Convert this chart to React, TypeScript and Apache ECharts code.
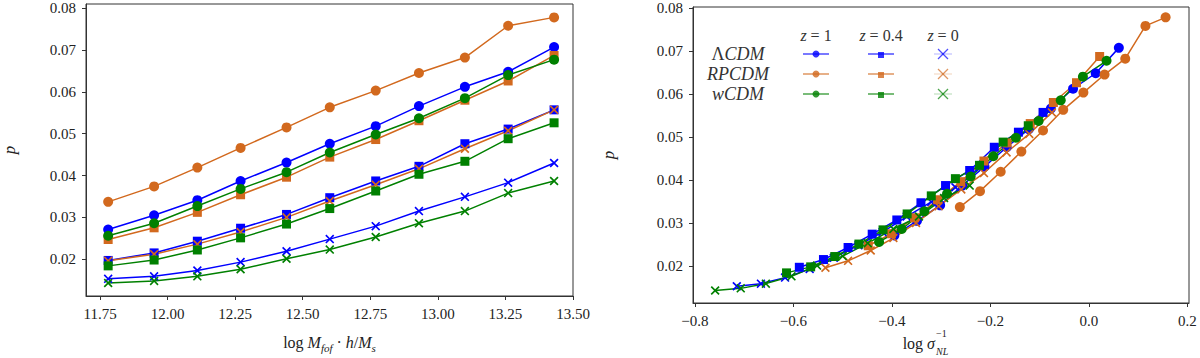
import React, { useEffect, useRef } from "react";
import * as echarts from "echarts";

// ---------- data ----------
const massBins = [11.78, 11.95, 12.11, 12.27, 12.44, 12.60, 12.77, 12.93, 13.10, 13.26, 13.43];

const pLcdmZ1 = [0.0271, 0.0305, 0.0341, 0.0387, 0.0431, 0.0476, 0.0518, 0.0566, 0.0612, 0.0648, 0.0707];
const pLcdmZ04 = [0.0197, 0.0215, 0.0243, 0.0274, 0.0307, 0.0347, 0.0387, 0.0422, 0.0476, 0.0511, 0.0557];
const pLcdmZ0 = [0.0153, 0.0159, 0.0173, 0.0193, 0.0219, 0.0248, 0.0279, 0.0315, 0.0349, 0.0383, 0.0430];
const pRpZ1 = [0.0337, 0.0374, 0.0419, 0.0466, 0.0515, 0.0563, 0.0603, 0.0645, 0.0682, 0.0758, 0.0778];
const pRpZ04 = [0.0247, 0.0275, 0.0312, 0.0354, 0.0396, 0.0444, 0.0486, 0.0531, 0.0580, 0.0626, 0.0687];
const pRpZ0 = [0.0196, 0.0212, 0.0236, 0.0265, 0.0300, 0.0339, 0.0378, 0.0416, 0.0464, 0.0507, 0.0557];
const pWZ1 = [0.0256, 0.0286, 0.0327, 0.0368, 0.0408, 0.0455, 0.0498, 0.0537, 0.0585, 0.0640, 0.0677];
const pWZ04 = [0.0184, 0.0198, 0.0222, 0.0251, 0.0284, 0.0321, 0.0363, 0.0403, 0.0434, 0.0488, 0.0526];
const pWZ0 = [0.0143, 0.0148, 0.0159, 0.0176, 0.0201, 0.0223, 0.0253, 0.0286, 0.0315, 0.0358, 0.0387];

const sLcdmZ1 = [-0.395, -0.349, -0.302, -0.257, -0.212, -0.167, -0.122, -0.077, -0.032, 0.014, 0.061];
const sLcdmZ04 = [-0.588, -0.539, -0.489, -0.440, -0.390, -0.341, -0.291, -0.242, -0.192, -0.143, -0.093];
const sLcdmZ0 = [-0.715, -0.666, -0.617, -0.567, -0.518, -0.468, -0.419, -0.370, -0.320, -0.271, -0.221];
const sRpZ1 = [-0.262, -0.221, -0.179, -0.137, -0.093, -0.052, -0.011, 0.032, 0.074, 0.115, 0.156];
const sRpZ04 = [-0.448, -0.401, -0.354, -0.307, -0.260, -0.213, -0.166, -0.119, -0.072, -0.025, 0.022];
const sRpZ0 = [-0.535, -0.489, -0.443, -0.397, -0.351, -0.305, -0.259, -0.213, -0.167, -0.121, -0.075];
const sWZ1 = [-0.426, -0.380, -0.334, -0.288, -0.240, -0.194, -0.148, -0.102, -0.057, -0.012, 0.036];
const sWZ04 = [-0.614, -0.565, -0.516, -0.467, -0.418, -0.369, -0.320, -0.271, -0.222, -0.174, -0.123];
const sWZ0 = [-0.759, -0.707, -0.656, -0.604, -0.552, -0.500, -0.449, -0.397, -0.345, -0.294, -0.242];

const leftXTicks = [11.75, 12.0, 12.25, 12.5, 12.75, 13.0, 13.25, 13.5];
const rightXTicks = [-0.8, -0.6, -0.4, -0.2, 0.0, 0.2];
const yTicks = [0.02, 0.03, 0.04, 0.05, 0.06, 0.07, 0.08];

const modelNames = ["ΛCDM", "RPCDM", "wCDM"];
const zLabels = ["1", "0.4", "0"];

// ---------- style ----------
const BLUE = "#0000ff";
const ORANGE = "#d2691e";
const GREEN = "#008000";
const FONT = "Liberation Serif";
const XSYM =
  "path://M0,1.3 L1.3,0 L5,3.7 L8.7,0 L10,1.3 L6.3,5 L10,8.7 L8.7,10 L5,6.3 L1.3,10 L0,8.7 L3.7,5 Z";

function mk(
  name: string,
  xs: number[],
  ys: number[],
  color: string,
  symbol: string,
  idx: number
) {
  return {
    type: "line",
    name,
    xAxisIndex: idx,
    yAxisIndex: idx,
    data: xs.map((x, i) => [x, ys[i]]),
    symbol,
    symbolSize: symbol === "circle" ? 10 : 9,
    lineStyle: { color, width: 1.5 },
    itemStyle: { color },
    emphasis: { disabled: true },
  };
}

const axisCommon = {
  type: "value",
  splitLine: { show: false },
  axisLine: { show: true, onZero: false, lineStyle: { color: "#333", width: 1 } },
  axisTick: { show: true, length: 4, lineStyle: { color: "#333" } },
};

export default function App() {
  const ref = useRef<HTMLDivElement>(null);
  useEffect(() => {
    if (!ref.current) return;
    const chart = echarts.init(ref.current, null, { renderer: "svg" });
    const labelStyle = { fontFamily: FONT, fontSize: 15, color: "#222" };
    const minus = (s: string) => s.replace("-", "\u2212");

    const series = [
      mk("LCDM z1", massBins, pLcdmZ1, BLUE, "circle", 0),
      mk("LCDM z04", massBins, pLcdmZ04, BLUE, "rect", 0),
      mk("LCDM z0", massBins, pLcdmZ0, BLUE, XSYM, 0),
      mk("RP z1", massBins, pRpZ1, ORANGE, "circle", 0),
      mk("RP z04", massBins, pRpZ04, ORANGE, "rect", 0),
      mk("RP z0", massBins, pRpZ0, ORANGE, XSYM, 0),
      mk("W z1", massBins, pWZ1, GREEN, "circle", 0),
      mk("W z04", massBins, pWZ04, GREEN, "rect", 0),
      mk("W z0", massBins, pWZ0, GREEN, XSYM, 0),
      mk("LCDM z1 s", sLcdmZ1, pLcdmZ1, BLUE, "circle", 1),
      mk("LCDM z04 s", sLcdmZ04, pLcdmZ04, BLUE, "rect", 1),
      mk("LCDM z0 s", sLcdmZ0, pLcdmZ0, BLUE, XSYM, 1),
      mk("RP z1 s", sRpZ1, pRpZ1, ORANGE, "circle", 1),
      mk("RP z04 s", sRpZ04, pRpZ04, ORANGE, "rect", 1),
      mk("RP z0 s", sRpZ0, pRpZ0, ORANGE, XSYM, 1),
      mk("W z1 s", sWZ1, pWZ1, GREEN, "circle", 1),
      mk("W z04 s", sWZ04, pWZ04, GREEN, "rect", 1),
      mk("W z0 s", sWZ0, pWZ0, GREEN, XSYM, 1),
    ];

    // legend graphic (table layout)
    const colors = [BLUE, ORANGE, GREEN];
    const rowY = [54, 74, 94];
    const colX = [816, 881, 943];
    const legendEls: any[] = [];
    zLabels.forEach((z, c) => {
      legendEls.push({
        type: "text",
        x: colX[c],
        y: 35,
        style: {
          text: "{i|z} = " + z,
          rich: { i: { fontStyle: "italic", fontFamily: FONT, fontSize: 16, fill: "#333" } },
          font: `16px ${FONT}`,
          fill: "#333",
          align: "center",
          verticalAlign: "middle",
        },
      });
    });
    modelNames.forEach((m, r) => {
      const txt = m === "ΛCDM" ? "{n|Λ}{i|CDM}" : "{i|" + m + "}";
      legendEls.push({
        type: "text",
        x: 738,
        y: rowY[r],
        style: {
          text: txt,
          rich: {
            n: { fontFamily: FONT, fontSize: 18, fill: "#333" },
            i: { fontFamily: FONT, fontSize: 18, fontStyle: "italic", fill: "#333" },
          },
          align: "center",
          verticalAlign: "middle",
        },
      });
      const col = colors[r];
      const y = rowY[r];
      legendEls.push({ type: "line", shape: { x1: colX[0] - 13, y1: y, x2: colX[0] + 13, y2: y }, style: { stroke: col, lineWidth: 1.5, opacity: 0.7 } });
      legendEls.push({ type: "circle", shape: { cx: colX[0], cy: y, r: 3.5 }, style: { fill: col, opacity: 0.8 } });
      legendEls.push({ type: "line", shape: { x1: colX[1] - 13, y1: y, x2: colX[1] + 13, y2: y }, style: { stroke: col, lineWidth: 1.5, opacity: 0.7 } });
      legendEls.push({ type: "rect", shape: { x: colX[1] - 3, y: y - 2, width: 6, height: 6 }, style: { fill: col, opacity: 0.8 } });
      legendEls.push({ type: "line", shape: { x1: colX[2] - 5, y1: y - 5, x2: colX[2] + 5, y2: y + 5 }, style: { stroke: col, lineWidth: 1.3, opacity: 0.7 } });
      legendEls.push({ type: "line", shape: { x1: colX[2] - 5, y1: y + 5, x2: colX[2] + 5, y2: y - 5 }, style: { stroke: col, lineWidth: 1.3, opacity: 0.7 } });
      legendEls.push({ type: "line", shape: { x1: colX[2] - 9, y1: y, x2: colX[2] + 9, y2: y }, style: { stroke: col, lineWidth: 1, opacity: 0.3 } });
    });

    const nameRich = {
      n: { fontFamily: FONT, fontSize: 16, color: "#222" },
      i: { fontFamily: FONT, fontSize: 16, fontStyle: "italic", color: "#222" },
      s: { fontFamily: FONT, fontSize: 11, fontStyle: "italic", color: "#222", padding: [10, 0, 0, 0] },
    };

    chart.setOption({
      animation: false,
      backgroundColor: "#fff",
      textStyle: { fontFamily: FONT, fontSize: 15, color: "#222" },
      grid: [
        { left: 86, top: 4, width: 487, height: 300, show: true, borderColor: "#333", borderWidth: 1, containLabel: false },
        { left: 693, top: 7, width: 496, height: 296, show: true, borderColor: "#333", borderWidth: 1, containLabel: false },
      ],
      xAxis: [
        {
          ...axisCommon,
          gridIndex: 0,
          min: 11.698,
          max: 13.5,
          axisTick: { ...axisCommon.axisTick, customValues: leftXTicks },
          axisLabel: { ...labelStyle, margin: 10, customValues: leftXTicks, formatter: (v: number) => v.toFixed(2) },
          name: "{n|log }{i|M}{s|fof}{n| · }{i|h}{n|/}{i|M}{s|s}",
          nameLocation: "middle",
          nameGap: 36,
          nameTextStyle: { rich: nameRich },
        },
        {
          ...axisCommon,
          gridIndex: 1,
          min: -0.804,
          max: 0.2035,
          axisTick: { ...axisCommon.axisTick, customValues: rightXTicks },
          axisLabel: { ...labelStyle, margin: 10, customValues: rightXTicks, formatter: (v: number) => minus(v.toFixed(1)) },
        },
      ],
      yAxis: [
        {
          ...axisCommon,
          gridIndex: 0,
          min: 0.0112,
          max: 0.081,
          axisTick: { ...axisCommon.axisTick, customValues: yTicks },
          axisLabel: { ...labelStyle, margin: 10, customValues: yTicks, formatter: (v: number) => v.toFixed(2) },
          name: "p",
          nameLocation: "middle",
          nameGap: 68,
          nameRotate: 90,
          nameTextStyle: { fontFamily: FONT, fontSize: 17, fontStyle: "italic", color: "#222" },
        },
        {
          ...axisCommon,
          gridIndex: 1,
          min: 0.0114,
          max: 0.0802,
          axisTick: { ...axisCommon.axisTick, customValues: yTicks },
          axisLabel: { ...labelStyle, margin: 10, customValues: yTicks, formatter: (v: number) => v.toFixed(2) },
          name: "p",
          nameLocation: "middle",
          nameGap: 76,
          nameRotate: 90,
          nameTextStyle: { fontFamily: FONT, fontSize: 17, fontStyle: "italic", color: "#222" },
        },
      ],
      graphic: [
        { type: "group", children: legendEls },
        {
          type: "text",
          x: 935,
          y: 343,
          style: {
            text: "{n|log }{i|σ}",
            rich: {
              n: { fontFamily: FONT, fontSize: 16, fill: "#222" },
              i: { fontFamily: FONT, fontSize: 16, fontStyle: "italic", fill: "#222" },
            },
            align: "right",
            verticalAlign: "middle",
          },
        },
        {
          type: "text",
          x: 936,
          y: 333,
          style: { text: "−1", font: `10px ${FONT}`, fill: "#222", align: "left", verticalAlign: "middle" },
        },
        {
          type: "text",
          x: 936,
          y: 351,
          style: { text: "NL", font: `italic 10px ${FONT}`, fill: "#222", align: "left", verticalAlign: "middle" },
        },
      ],
      series,
    });
    return () => chart.dispose();
  }, []);
  return (
    <div
      ref={ref}
      style={{ position: "fixed", left: 0, top: 0, width: 1200, height: 358, background: "#fff" }}
    />
  );
}
